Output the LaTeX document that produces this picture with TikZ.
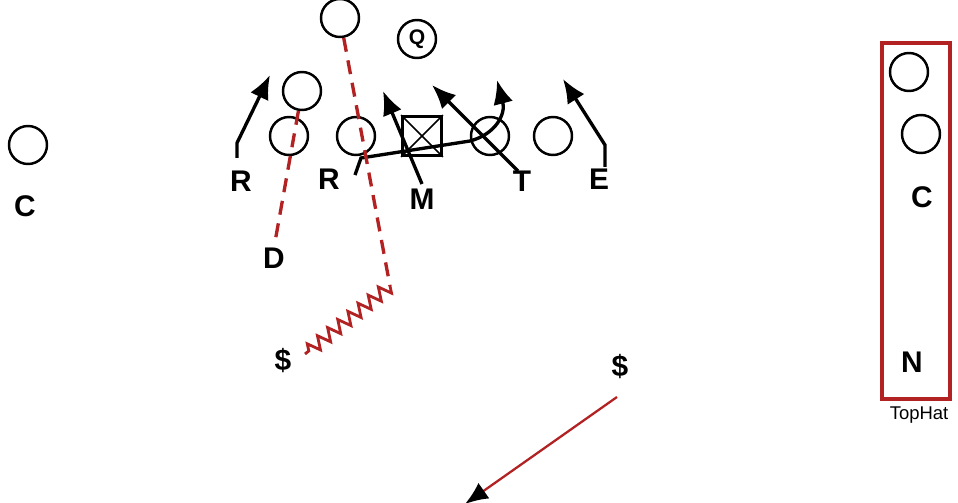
\documentclass[tikz,border=0pt]{standalone}
\usepackage{fontspec}
\setmainfont{Liberation Sans}
\usetikzlibrary{arrows.meta,decorations.pathmorphing}
\definecolor{routered}{RGB}{178,34,34}
\tikzset{
    player/.style={circle,draw,line width=1.4pt,minimum size=0.76cm,inner sep=0pt},
    lbl/.style={font=\fontsize{17}{20}\selectfont\bfseries,inner sep=0pt},
    run/.style={line width=1.9pt,-{Latex[length=0.48cm,width=0.4cm]}},
    blitz/.style={routered,line width=1.9pt,dash pattern=on 8pt off 5pt},
}
\begin{document}
\begin{tikzpicture}[x=0.02cm,y=-0.02cm]
    \useasboundingbox (0,0) rectangle (958,503);
    % the offense, left to right
    \node[player] (cL) at (28,145) {};
    \node[player] (tL) at (289,136) {};
    \node[player] (gL) at (356,136) {};
    \node[draw,line width=1.6pt,minimum size=0.78cm,inner sep=0pt] (ctr) at (422,136) {};
    \draw[line width=0.9pt] (ctr.north west) -- (ctr.south east)
        (ctr.north east) -- (ctr.south west);
    \node[player] (gR) at (490,136) {};
    \node[player] (tR) at (553,136) {};
    \node[player] (wing) at (302,91) {};
    \node[player] (deep) at (340,18) {};
    \node[player,font=\fontsize{12}{14}\selectfont\bfseries] (q) at (417,39) {Q};
    % the defense labels
    \node[lbl] (lblC) at (25,206) {C};
    \node[lbl] (lblR1) at (241,181) {R};
    \node[lbl] (lblR2) at (329,179) {R};
    \node[lbl] (lblM) at (422,199) {M};
    \node[lbl] (lblT) at (522,181) {T};
    \node[lbl] (lblE) at (599,179) {E};
    \node[lbl] (lblD) at (274,258) {D};
    \node[lbl] (moneyL) at (283,361) {\$};
    \node[lbl] (moneyR) at (620,367) {\$};
    % rush lanes
    \coordinate (r1a) at (237,158);
    \coordinate (r1b) at (237,143);
    \coordinate (r1c) at (270,75);
    \draw[run] (r1a) -- (r1b) -- (r1c);
    \coordinate (mTip) at (383,91);
    \draw[run] (422,184) -- (mTip);
    \coordinate (tTip) at (432,85);
    \draw[run] (518,171) -- (tTip);
    \coordinate (e1a) at (605,167);
    \coordinate (e1b) at (605,145);
    \coordinate (e1c) at (563,79);
    \draw[run] (e1a) -- (e1b) -- (e1c);
    % the looping R
    \coordinate (loopA) at (355,175);
    \coordinate (loopB) at (361,158);
    \coordinate (loopC) at (470,141);
    \coordinate (loopD) at (497,80);
    \draw[run] (loopA) -- (loopB) -- (loopC)
        .. controls (496,134) and (506,114) .. (loopD);
    % red coverage
    \coordinate (dropA) at (390,286);
    \coordinate (dropB) at (305,354);
    \draw[blitz] (deep) -- (dropA);
    \draw[routered,line width=1.6pt,decorate,
        decoration={zigzag,segment length=0.26cm,amplitude=0.13cm}] (dropA) -- (dropB);
    \coordinate (dEnd) at (275,242);
    \draw[blitz] (wing) -- (dEnd);
    \coordinate (sweepA) at (617,397);
    \coordinate (sweepB) at (465,504);
    \draw[routered,line width=1.3pt,-{Latex[length=0.46cm,width=0.38cm,color=black]}]
        (sweepA) -- (sweepB);
    % the top hat box
    \draw[routered,line width=1.9pt] (882,43) rectangle (950,399);
    \node[player] (hat1) at (909,72) {};
    \node[player] (hat2) at (921,134) {};
    \node[lbl] (hatC) at (922,197) {C};
    \node[lbl] (hatN) at (912,362) {N};
    \node[font=\fontsize{10.5}{12}\selectfont,inner sep=0pt] (hatName) at (919,415) {TopHat};
\end{tikzpicture}
\end{document}
